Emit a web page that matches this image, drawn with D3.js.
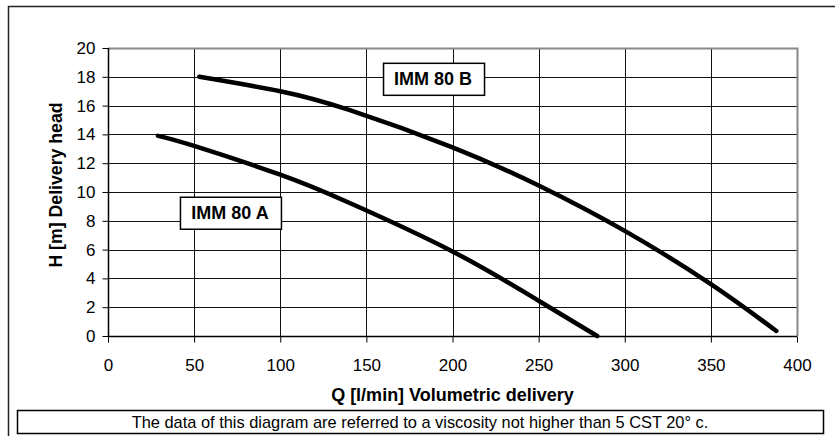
<!DOCTYPE html>
<html>
<head>
<meta charset="utf-8">
<style>
    body { margin: 0; background: white; }
    svg { display: block; font-family: "Liberation Sans", Arial, Helvetica, sans-serif; }
</style>
</head>
<body>
<svg width="835" height="436"></svg>
<script src="https://d3js.org/d3.v7.min.js"></script>
<script>
    // values
    const qA = [29, 50, 100, 140, 200, 250, 284];
    const hA = [13.9, 13.2, 11.2, 9.25, 5.87, 2.45, 0];
    const qB = [53, 100, 140, 200, 250, 300, 350, 388];
    const hB = [18, 17.0, 15.7, 13.1, 10.45, 7.3, 3.6, 0.35];
    const xTicks = [0, 50, 100, 150, 200, 250, 300, 350, 400];
    const yTicks = [0, 2, 4, 6, 8, 10, 12, 14, 16, 18, 20];
    const labelA = "IMM 80 A";
    const labelB = "IMM 80 B";
    const xTitle = "Q [l/min] Volumetric delivery";
    const yTitle = "H [m] Delivery head";
    const note = "The data of this diagram are referred to a viscosity not higher than 5 CST 20° c.";

    const margin = {top: 48, right: 38, bottom: 100, left: 108};
    const width = 835, height = 436;

    const svg = d3.select("svg");

    const x = d3.scaleLinear()
        .domain([0, 400])
        .range([margin.left, width - margin.right]);
    const y = d3.scaleLinear()
        .domain([0, 20])
        .range([height - margin.bottom, margin.top]);

    // outer frame (only left and top show in the picture)
    svg.append("path")
        .attr("d", `M8.5,${height + 5}V6.5H${width + 5}`)
        .attr("fill", "none")
        .attr("stroke", "#222")
        .attr("stroke-width", 1.5);

    // grid
    svg.append("g")
        .attr("stroke", "#111")
        .attr("stroke-width", 1)
        .call(g => g.selectAll("line.v")
            .data(xTicks.slice(1, -1))
            .join("line")
            .attr("x1", d => Math.round(x(d)) + 0.5)
            .attr("x2", d => Math.round(x(d)) + 0.5)
            .attr("y1", y(20))
            .attr("y2", y(0)))
        .call(g => g.selectAll("line.h")
            .data(yTicks.slice(1, -1))
            .join("line")
            .attr("y1", d => Math.round(y(d)) + 0.5)
            .attr("y2", d => Math.round(y(d)) + 0.5)
            .attr("x1", x(0))
            .attr("x2", x(400)));

    // top/right border of the plot area, grey
    svg.append("path")
        .attr("d", `M${x(0)},${y(20) + 0.5}H${x(400) + 0.5}V${y(0)}`)
        .attr("fill", "none")
        .attr("stroke", "#888")
        .attr("stroke-width", 2);

    const xAxis = svg.append("g")
        .attr("transform", `translate(0,${y(0) + 0.5})`)
        .call(d3.axisBottom(x).tickValues(xTicks).tickSize(6).tickPadding(16).tickFormat(d3.format("d")));
    const yAxis = svg.append("g")
        .attr("transform", `translate(${x(0) + 0.5},0)`)
        .call(d3.axisLeft(y).tickValues(yTicks).tickSize(6).tickPadding(7).tickFormat(d3.format("d")));

    [xAxis, yAxis].forEach(a => {
        a.attr("font-family", null).attr("font-size", 17);
        a.select(".domain").attr("stroke", "#000").attr("stroke-width", 1.5);
        a.selectAll(".tick line").attr("stroke", "#000");
        a.selectAll(".tick text").attr("fill", "#000");
    });
    // strip the outer tick caps of the domain line
    xAxis.select(".domain").attr("d", `M${x(0)},0H${x(400)}`);
    yAxis.select(".domain").attr("d", `M0,${y(0)}V${y(20)}`);

    // curves
    const line = d3.line()
        .x(d => x(d[0]))
        .y(d => y(d[1]))
        .curve(d3.curveNatural);

    svg.append("g")
        .attr("fill", "none")
        .attr("stroke", "#000")
        .attr("stroke-width", 4.5)
        .attr("stroke-linecap", "round")
        .attr("stroke-linejoin", "round")
        .selectAll("path")
        .data([d3.zip(qA, hA), d3.zip(qB, hB)])
        .join("path")
        .attr("d", line);

    // curve labels
    const labels = [
        {text: labelB, q: 188.7, h: 17.86, w: 101, hgt: 32},
        {text: labelA, q: 70.8, h: 8.56, w: 101, hgt: 32}
    ];
    const lg = svg.append("g").selectAll("g")
        .data(labels)
        .join("g")
        .attr("transform", d => `translate(${x(d.q)},${y(d.h)})`);
    lg.append("rect")
        .attr("x", d => Math.round(-d.w / 2) + 0.5)
        .attr("y", d => Math.round(-d.hgt / 2) + 0.5)
        .attr("width", d => d.w)
        .attr("height", d => d.hgt)
        .attr("fill", "white")
        .attr("stroke", "#000")
        .attr("stroke-width", 1.5);
    lg.append("text")
        .attr("text-anchor", "middle")
        .attr("dy", "0.33em")
        .attr("font-size", 18)
        .attr("font-weight", "bold")
        .text(d => d.text);

    // axis titles
    svg.append("text")
        .attr("x", (x(0) + x(400)) / 2)
        .attr("y", 401)
        .attr("text-anchor", "middle")
        .attr("font-size", 18)
        .attr("font-weight", "bold")
        .text(xTitle);
    svg.append("text")
        .attr("transform", `translate(62,${(y(0) + y(20)) / 2 - 7}) rotate(-90)`)
        .attr("text-anchor", "middle")
        .attr("font-size", 17.7)
        .attr("font-weight", "bold")
        .text(yTitle);

    // note box
    svg.append("rect")
        .attr("x", 17.5)
        .attr("y", 410.5)
        .attr("width", 806)
        .attr("height", 23)
        .attr("fill", "white")
        .attr("stroke", "#000")
        .attr("stroke-width", 1.5);
    svg.append("text")
        .attr("x", (17 + 823) / 2)
        .attr("y", 427.5)
        .attr("text-anchor", "middle")
        .attr("font-size", 16.4)
        .text(note);
</script>
</body>
</html>
